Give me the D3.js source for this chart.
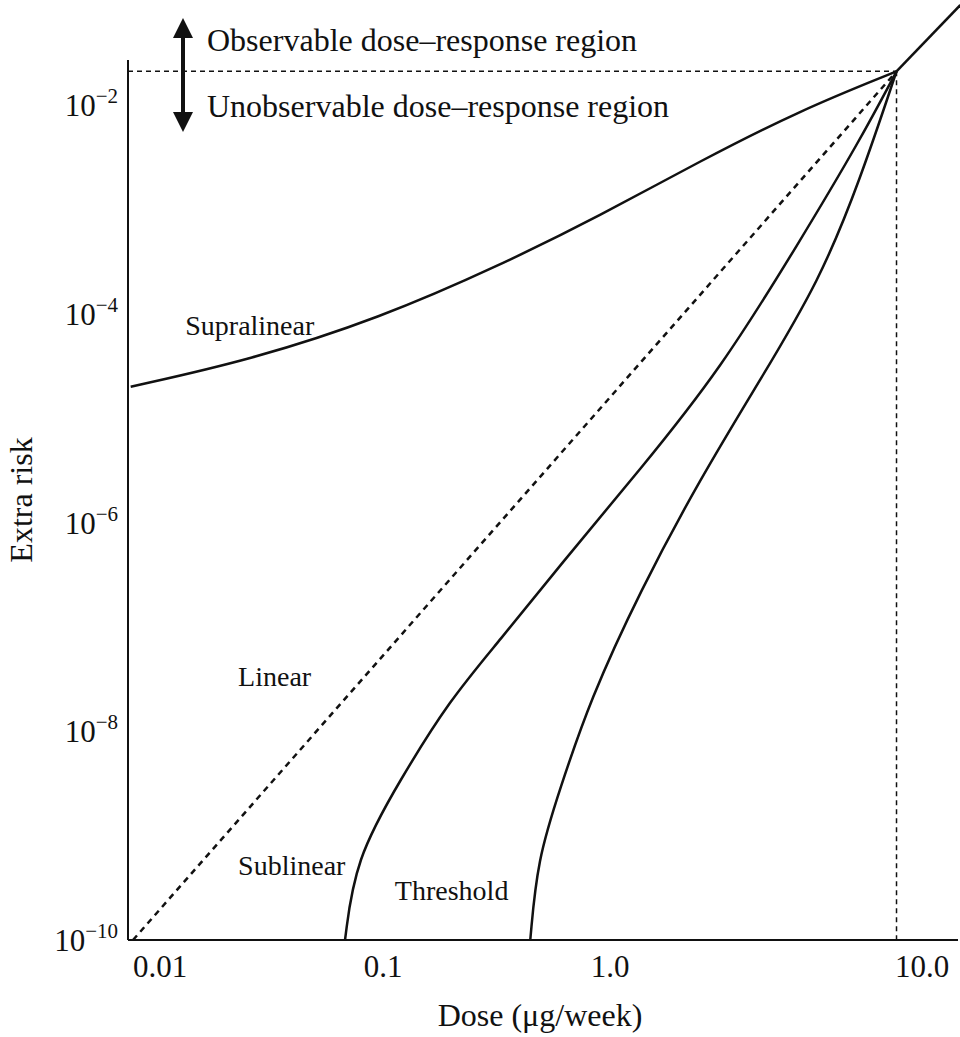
<!DOCTYPE html>
<html><head><meta charset="utf-8">
<script src="https://cdn.jsdelivr.net/npm/d3@7"></script>
<style>body{margin:0;background:#fff}text{font-family:"Liberation Serif","DejaVu Serif",serif;fill:#111}</style>
</head><body><svg id="chart" width="960" height="1037"></svg>
<script>
// data: [dose, extra risk]
var linear = [[0.01, 1e-10], [8, 0.021]];
var observed = [[8, 0.021], [14, 0.091]];
var supralinear = [[0.0098, 2.0e-5], [0.0279, 3.6e-5], [0.0869, 9.1e-5], [0.248, 2.9e-4], [0.597, 8.7e-4], [1.43, 2.9e-3], [3.44, 8.9e-3], [8, 0.021]];
var sublinear = [[0.064, 1e-10], [0.070, 5.9e-10], [0.1035, 3.4e-9], [0.160, 2.0e-8], [0.248, 7.4e-8], [0.420, 3.9e-7], [0.847, 3.2e-6], [1.71, 2.9e-5], [3.44, 5.0e-4], [5.81, 4.6e-3], [8, 0.021]];
var threshold = [[0.324, 1e-10], [0.345, 5.9e-10], [0.420, 2.8e-9], [0.547, 2.0e-8], [0.847, 2.2e-7], [1.43, 2.6e-6], [2.42, 2.3e-5], [4.09, 2.1e-4], [5.81, 1.9e-3], [8, 0.021]];
var xTicks = [0.01, 0.1, 1, 10];
var xTickLabels = ["0.01", "0.1", "1.0", "10.0"];
var yTicks = [-2, -4, -6, -8, -10];
var labels = [["Supralinear", 0.0158, 6.2e-5], ["Linear", 0.0251, 2.7e-8], ["Sublinear", 0.0251, 4.2e-10], ["Threshold", 0.099, 2.4e-10]];

var svg = d3.select("#chart");
var xScale = d3.scaleLog().domain([0.01, 10]).range([133, 922]);
var yScale = d3.scaleLog().domain([1e-10, 1e-2]).range([940, 105]);
var line = d3.line().curve(d3.curveBasis)
    .x(function (d) { return Math.max(128, xScale(d[0])); })
    .y(function (d) { return yScale(d[1]); });

// axes lines
svg.append("line").attr("x1", 128).attr("x2", 128).attr("y1", 60).attr("y2", 940).attr("stroke", "#111").attr("stroke-width", 2);
svg.append("line").attr("x1", 128).attr("x2", 958).attr("y1", 940).attr("y2", 940).attr("stroke", "#111").attr("stroke-width", 2);

// dashed boundaries
var px = xScale(8), py = yScale(0.021);
svg.append("line").attr("x1", 128).attr("x2", px).attr("y1", py).attr("y2", py).attr("stroke", "#111").attr("stroke-width", 1.5).attr("stroke-dasharray", "5,4");
svg.append("line").attr("x1", px).attr("x2", px).attr("y1", py).attr("y2", 940).attr("stroke", "#111").attr("stroke-width", 1.5).attr("stroke-dasharray", "5,4");

// curves
svg.append("path").attr("d", line(linear)).attr("fill", "none").attr("stroke", "#111").attr("stroke-width", 2.5).attr("stroke-dasharray", "6,5");
[observed, supralinear, sublinear, threshold].forEach(function (s) {
    svg.append("path").attr("d", line(s)).attr("fill", "none").attr("stroke", "#111").attr("stroke-width", 2.5);
});

// tick labels
xTicks.forEach(function (t, i) {
    svg.append("text").attr("x", xScale(t) + (i == 0 ? 27 : i == 1 ? -13 : i == 2 ? -49 : 0)).attr("y", 977)
        .attr("text-anchor", "middle").style("font-size", "31px").text(xTickLabels[i]);
});
yTicks.forEach(function (t) {
    var tx = svg.append("text").attr("x", 118).attr("y", yScale(Math.pow(10, t)) + 11)
        .attr("text-anchor", "end").style("font-size", "31px");
    tx.append("tspan").text("10");
    tx.append("tspan").attr("dy", -13).style("font-size", "21px").text("\u2212" + (-t));
});

// axis titles
svg.append("text").attr("x", 540).attr("y", 1026).attr("text-anchor", "middle").style("font-size", "32px").text("Dose (\u03bcg/week)");
svg.append("text").attr("transform", "translate(32,500) rotate(-90)").attr("text-anchor", "middle").style("font-size", "32px").text("Extra risk");

// curve labels
labels.forEach(function (l) {
    svg.append("text").attr("x", xScale(l[1])).attr("y", yScale(l[2])).style("font-size", "28px").text(l[0]);
});

// region arrow
svg.append("defs").append("marker").attr("id", "ah").attr("viewBox", "0 0 10 10").attr("refX", 5).attr("refY", 5)
    .attr("markerWidth", 5).attr("markerHeight", 5).attr("orient", "auto-start-reverse")
    .append("path").attr("d", "M0,0L10,5L0,10z").attr("fill", "#111");
svg.append("line").attr("x1", 183).attr("x2", 183).attr("y1", 28).attr("y2", 122).attr("stroke", "#111").attr("stroke-width", 4)
    .attr("marker-start", "url(#ah)").attr("marker-end", "url(#ah)");
svg.append("text").attr("x", 207).attr("y", 51).style("font-size", "32px").text("Observable dose\u2013response region");
svg.append("text").attr("x", 207).attr("y", 117).style("font-size", "32px").text("Unobservable dose\u2013response region");
</script></body></html>
